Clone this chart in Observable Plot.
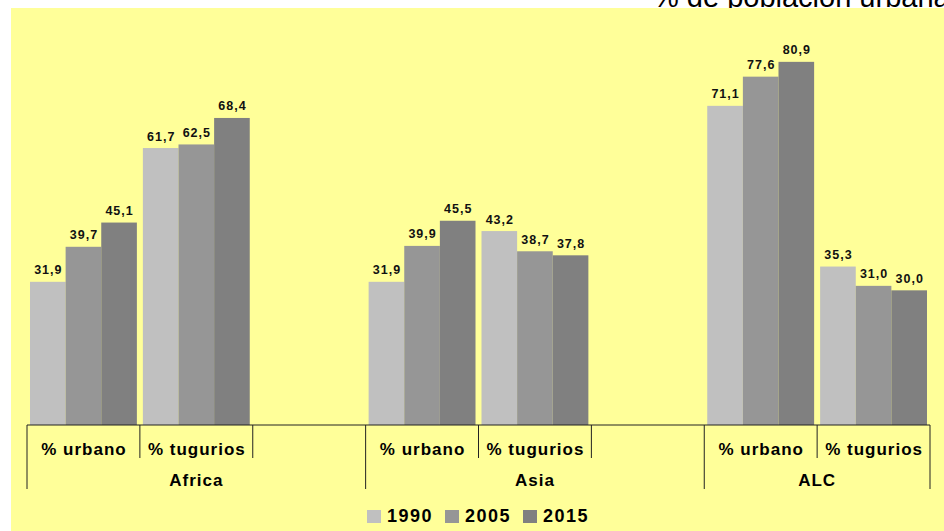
<!DOCTYPE html>
<html><head><meta charset="utf-8">
<script src="https://cdn.jsdelivr.net/npm/d3@7"></script>
<script src="https://cdn.jsdelivr.net/npm/@observablehq/plot@0.6"></script>
<style>
body{margin:0;background:#fff;}
#wrap{position:relative;width:944px;height:531px;overflow:hidden;font-family:"Liberation Sans",Arial,sans-serif;}
#title{position:absolute;left:653px;top:-17.5px;font-size:29px;line-height:29px;white-space:nowrap;color:#000;}
#bg{position:absolute;left:11px;top:8px;right:0;bottom:0;background:#FFFF99;}
#chart{position:absolute;left:0;top:0;}
#chart svg text{font-family:"Liberation Sans",Arial,sans-serif;}
#chart svg .vlab text{letter-spacing:1px;}
#chart svg .clab text, #chart svg text.glab{letter-spacing:1px;}
#legend{position:absolute;left:367px;top:506px;display:flex;align-items:center;font-weight:bold;font-size:18px;letter-spacing:1.5px;color:#000;}
#legend .it{display:flex;align-items:center;width:78px;}
#legend .sw{width:14px;height:13px;margin-right:6px;}
</style></head>
<body>
<div id="wrap">
  <div id="title">% de población urbana</div>
  <div id="bg"></div>
  <div id="chart"></div>
  <div id="legend"></div>
</div>
<script>
const regions = ["Africa", "Asia", "ALC"];
const indicators = ["% urbano", "% tugurios"];
const years = ["1990", "2005", "2015"];
const yearColors = ["#C0C0C0", "#969696", "#808080"];
const africaUrbano = [31.9, 39.7, 45.1];
const africaTugurios = [61.7, 62.5, 68.4];
const asiaUrbano = [31.9, 39.9, 45.5];
const asiaTugurios = [43.2, 38.7, 37.8];
const alcUrbano = [71.1, 77.6, 80.9];
const alcTugurios = [35.3, 31.0, 30.0];

const series = {
  "Africa|% urbano": africaUrbano, "Africa|% tugurios": africaTugurios,
  "Asia|% urbano": asiaUrbano, "Asia|% tugurios": asiaTugurios,
  "ALC|% urbano": alcUrbano, "ALC|% tugurios": alcTugurios
};

// slots: each region has two indicator slots plus a spacer slot (none after the last)
const slots = [];
const cats = [];
regions.forEach((r, ri) => {
  indicators.forEach(ind => { slots.push(r + "|" + ind); cats.push({slot: r + "|" + ind, label: ind}); });
  if (ri < regions.length - 1) slots.push(r + "|");
});
const rows = [];
for (const [slot, vals] of Object.entries(series)) {
  vals.forEach((v, i) => rows.push({slot, year: years[i], value: v}));
}
const fmt = v => d3.format(".1f")(v).replace(".", ",");

const plot = Plot.plot({
  width: 944, height: 500,
  marginLeft: 27, marginRight: 14, marginTop: 21, marginBottom: 75,
  style: {background: "transparent", overflow: "visible"},
  fx: {domain: slots, padding: 0, round: false, axis: null},
  x: {domain: years, padding: 0, round: false, insetLeft: 3, insetRight: 3, axis: null},
  y: {domain: [0, 90], axis: null},
  color: {domain: years, range: yearColors},
  marks: [
    Plot.barY(rows, {fx: "slot", x: "year", y: "value", fill: "year", inset: 0}),
    Plot.text(rows, {fx: "slot", x: "year", y: "value", text: d => fmt(d.value), lineAnchor: "bottom", dy: -8,
      fontWeight: "bold", fontSize: 12.5, fill: "#111", className: "vlab"}),
    Plot.text(cats, {fx: "slot", text: "label", frameAnchor: "bottom", lineAnchor: "bottom", dy: 29,
      fontWeight: "bold", fontSize: 17, fill: "#000", className: "clab"})
  ]
});
document.getElementById("chart").appendChild(plot);

// category axis: baseline, slot ticks and region labels, placed with Plot's own scales
const fxs = plot.scale("fx"), ys = plot.scale("y");
const bw = fxs.bandwidth;
const y0 = ys.apply(0);
const svg = d3.select(plot);
const g = svg.append("g").attr("stroke", "#222").attr("stroke-width", 1);
const x0 = fxs.apply(slots[0]), xEnd = fxs.apply(slots[slots.length - 1]) + bw;
g.append("line").attr("x1", x0).attr("x2", xEnd).attr("y1", y0).attr("y2", y0);
const groupEdges = new Set();
regions.forEach(r => {
  const rs = slots.filter(s => s.startsWith(r + "|"));
  groupEdges.add(rs[0]);
});
slots.forEach(s => {
  const x = fxs.apply(s);
  g.append("line").attr("x1", x).attr("x2", x).attr("y1", y0).attr("y2", y0 + (groupEdges.has(s) ? 64 : 33));
});
g.append("line").attr("x1", xEnd).attr("x2", xEnd).attr("y1", y0).attr("y2", y0 + 64);
regions.forEach(r => {
  const rs = slots.filter(s => s.startsWith(r + "|"));
  const a = fxs.apply(rs[0]), b = fxs.apply(rs[rs.length - 1]) + bw;
  svg.append("text").attr("class", "glab").attr("x", (a + b) / 2).attr("y", y0 + 61)
    .attr("text-anchor", "middle").attr("font-weight", "bold").attr("font-size", 17).attr("fill", "#000").text(r);
});

// legend
const leg = d3.select("#legend");
years.forEach((y, i) => {
  const it = leg.append("div").attr("class", "it");
  it.append("div").attr("class", "sw").style("background", yearColors[i]);
  it.append("span").text(y);
});
</script>
</body></html>
